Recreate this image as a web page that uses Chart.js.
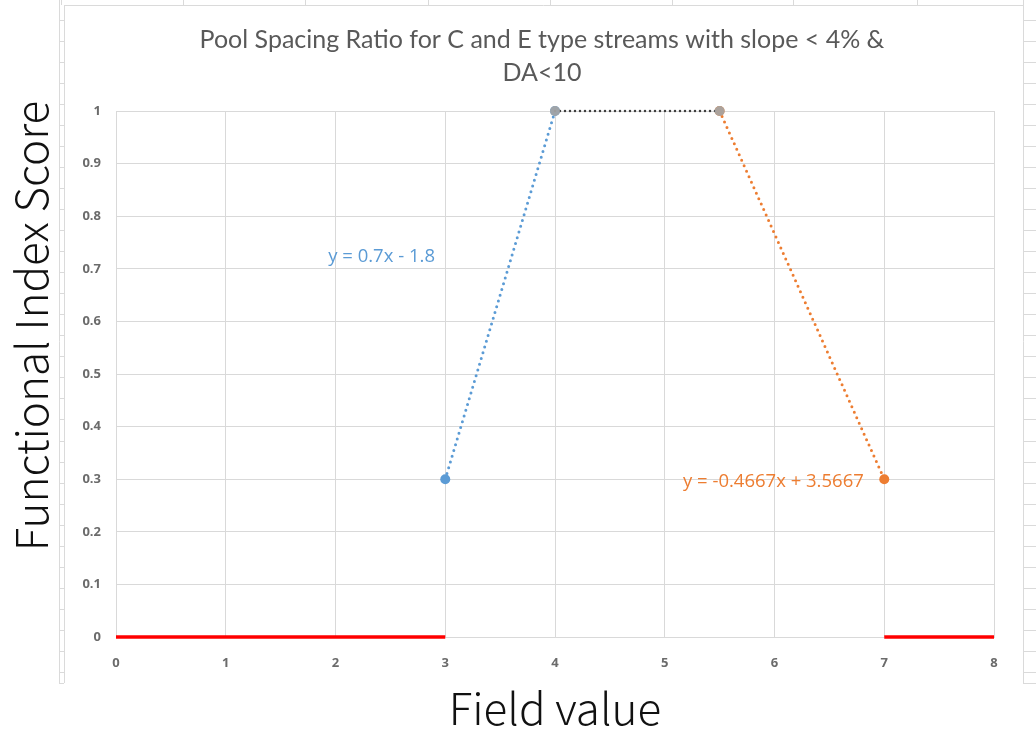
<!DOCTYPE html>
<html>
<head>
<meta charset="utf-8">
<script src="https://cdn.jsdelivr.net/npm/chart.js@4/dist/chart.umd.min.js"></script>
<style>
  html, body { margin: 0; padding: 0; background: #fff; overflow: hidden; }
  canvas { display: block; }
</style>
</head>
<body>
<canvas id="grafico" width="1036" height="735"></canvas>
<script>
// valores
const xTickLabels = ["0", "1", "2", "3", "4", "5", "6", "7", "8"];
const yTickLabels = ["0", "0.1", "0.2", "0.3", "0.4", "0.5", "0.6", "0.7", "0.8", "0.9", "1"];

const subidaX = [3, 4];
const subidaY = [0.3, 1];
const topoX = [4, 5.5];
const topoY = [1, 1];
const descidaX = [5.5, 7];
const descidaY = [1, 0.3];
const zeroEsqX = [0, 3];
const zeroEsqY = [0, 0];
const zeroDirX = [7, 8];
const zeroDirY = [0, 0];

const tituloGrafico = ["Pool Spacing Ratio for C and E type streams with slope < 4% &", "DA<10"];
const tituloX = "Field value";
const tituloY = "Functional Index Score";
const equacaoAzul = "y = 0.7x - 1.8";
const equacaoLaranja = "y = -0.4667x + 3.5667";

const azul = "#5B9BD5";
const laranja = "#ED7D31";
const corTexto = "#595959";
const corGrade = "#D9D9D9";

function pontos(xs, ys) {
  return xs.map((x, i) => ({ x: x, y: ys[i] }));
}

// fundo de planilha atras do grafico
const fundoPlanilha = {
  id: "fundoPlanilha",
  beforeDraw(chart) {
    const ctx = chart.ctx;
    ctx.save();
    ctx.fillStyle = "#fff";
    ctx.fillRect(0, 0, chart.width, chart.height);
    ctx.strokeStyle = "#DADADA";
    ctx.lineWidth = 1;
    ctx.beginPath();
    [61, 183, 305, 428, 550, 672, 793, 917].forEach(x => {
      ctx.moveTo(x + 0.5, 0);
      ctx.lineTo(x + 0.5, 5);
    });
    ctx.moveTo(59.5, 0); ctx.lineTo(59.5, 683);
    ctx.moveTo(64.5, 5); ctx.lineTo(64.5, 683);
    ctx.moveTo(1023.5, 0); ctx.lineTo(1023.5, 683);
    ctx.moveTo(64, 5.5); ctx.lineTo(1023, 5.5);
    for (let y = 19.5; y < 684; y += 21.05) {
      const yy = Math.round(y) + 0.5;
      ctx.moveTo(59, yy); ctx.lineTo(64, yy);
      ctx.moveTo(1023, yy); ctx.lineTo(1036, yy);
    }
    ctx.moveTo(59, 683.5); ctx.lineTo(64, 683.5);
    ctx.moveTo(1023, 683.5); ctx.lineTo(1036, 683.5);
    ctx.stroke();
    ctx.restore();
  }
};

// equacoes das linhas de tendencia e titulo do eixo y
const textosExtras = {
  id: "textosExtras",
  afterDraw(chart) {
    const ctx = chart.ctx;
    const sx = chart.scales.x, sy = chart.scales.y;
    ctx.save();
    ctx.font = "18.5px 'Open Sans'";
    ctx.textAlign = "center";
    ctx.textBaseline = "middle";
    ctx.fillStyle = azul;
    ctx.fillText(equacaoAzul, sx.getPixelForValue(2.42), sy.getPixelForValue(0.722));
    ctx.fillStyle = laranja;
    ctx.fillText(equacaoLaranja, sx.getPixelForValue(5.99), sy.getPixelForValue(0.295));

    ctx.translate(48, 326);
    ctx.rotate(-Math.PI / 2);
    ctx.textBaseline = "alphabetic";
    ctx.font = "300 44px 'Noto Sans CJK JP'";
    ctx.fillStyle = "#111";
    ctx.fillText(tituloY, 0, 0);
    ctx.restore();
  }
};

const linhaPontilhada = (cor, largura, passo) => ({
  borderColor: cor,
  borderWidth: largura,
  borderDash: [0, passo],
  borderCapStyle: "round",
  showLine: true,
  clip: false
});

new Chart(document.getElementById("grafico"), {
  type: "scatter",
  data: {
    datasets: [
      Object.assign({
        data: pontos(topoX, topoY),
        pointRadius: 5,
        pointBackgroundColor: "rgba(165,165,165,0.92)",
        pointBorderWidth: 0
      }, linhaPontilhada("#3F3F3F", 2.5, 5)),
      Object.assign({
        data: pontos(subidaX, subidaY),
        pointRadius: 5,
        pointBackgroundColor: azul,
        pointBorderWidth: 0
      }, linhaPontilhada(azul, 3, 6)),
      Object.assign({
        data: pontos(descidaX, descidaY),
        pointRadius: 5,
        pointBackgroundColor: laranja,
        pointBorderWidth: 0
      }, linhaPontilhada(laranja, 3, 6)),
      {
        data: pontos(zeroEsqX, zeroEsqY),
        showLine: true,
        borderColor: "#FF0000",
        borderWidth: 3.5,
        pointRadius: 0,
        clip: false
      },
      {
        data: pontos(zeroDirX, zeroDirY),
        showLine: true,
        borderColor: "#FF0000",
        borderWidth: 3.5,
        pointRadius: 0,
        clip: false
      }
    ]
  },
  options: {
    responsive: false,
    animation: false,
    layout: { padding: { left: 48, right: 0, top: 0, bottom: 0 } },
    plugins: {
      legend: { display: false },
      tooltip: { enabled: false },
      title: {
        display: true,
        text: tituloGrafico,
        color: corTexto,
        font: { family: "Lato", size: 25, weight: "normal", lineHeight: 1.32 },
        padding: { top: 23.5, bottom: 21.5 }
      }
    },
    scales: {
      x: {
        type: "linear",
        min: 0,
        max: 8,
        afterFit: s => { s.height = 98; },
        grid: { color: corGrade, drawTicks: false },
        border: { color: corGrade },
        ticks: {
          stepSize: 1,
          padding: 18,
          color: "#6b6b6b",
          font: { family: "Open Sans", size: 13, weight: "bold" },
          callback: (v, i) => xTickLabels[i]
        },
        title: {
          display: true,
          text: tituloX,
          color: "#111",
          font: { family: "Noto Sans CJK JP", size: 44, weight: 300, lineHeight: 1.2 },
          padding: { top: 0, bottom: 0 }
        }
      },
      y: {
        type: "linear",
        min: 0,
        max: 1,
        afterFit: s => { s.width = 68; },
        grid: { color: corGrade, drawTicks: false },
        border: { color: corGrade },
        ticks: {
          stepSize: 0.1,
          padding: 15,
          color: "#6b6b6b",
          font: { family: "Open Sans", size: 13, weight: "bold" },
          callback: (v, i) => yTickLabels[i]
        }
      },
      margemDireita: {
        type: "linear",
        position: "right",
        afterFit: s => { s.width = 42; },
        grid: { display: false },
        border: { display: false },
        ticks: { display: false }
      }
    }
  },
  plugins: [fundoPlanilha, textosExtras]
});
</script>
</body>
</html>
